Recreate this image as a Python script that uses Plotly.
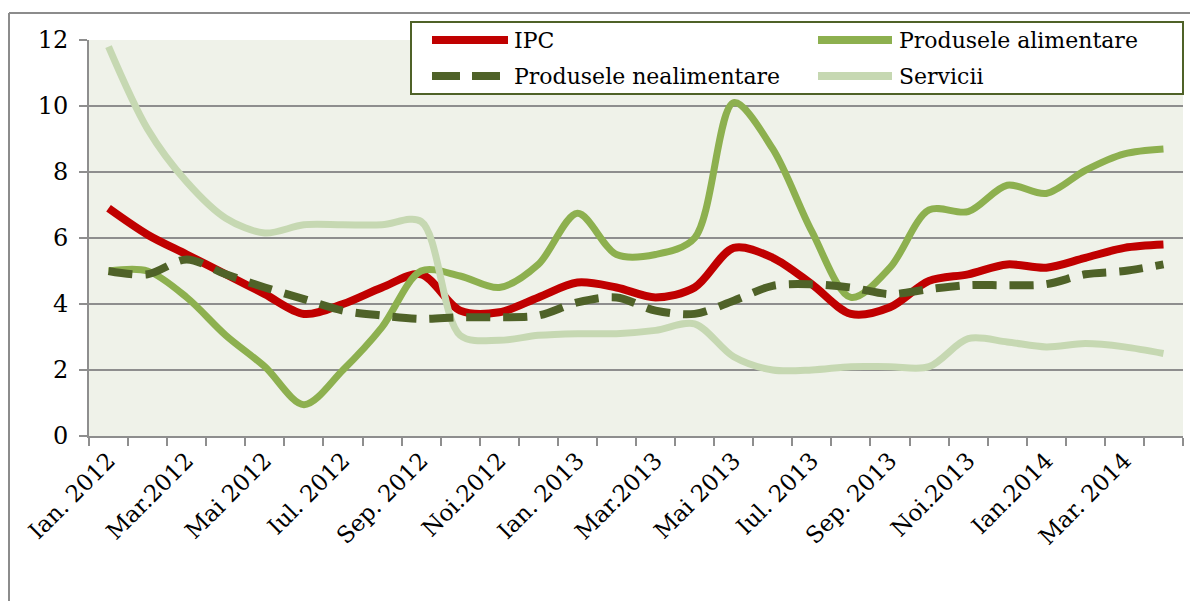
import plotly.graph_objects as go

# ---------------- data ----------------
months = ["Ian. 2012", "Feb. 2012", "Mar.2012", "Apr. 2012", "Mai 2012", "Iun. 2012",
          "Iul. 2012", "Aug. 2012", "Sep. 2012", "Oct. 2012", "Noi.2012", "Dec. 2012",
          "Ian. 2013", "Feb. 2013", "Mar.2013", "Apr. 2013", "Mai 2013", "Iun. 2013",
          "Iul. 2013", "Aug. 2013", "Sep. 2013", "Oct. 2013", "Noi.2013", "Dec. 2013",
          "Ian.2014", "Feb. 2014", "Mar. 2014", "Apr. 2014"]
tick_labels = ["Ian. 2012", "Mar.2012", "Mai 2012", "Iul. 2012", "Sep. 2012", "Noi.2012",
               "Ian. 2013", "Mar.2013", "Mai 2013", "Iul. 2013", "Sep. 2013", "Noi.2013",
               "Ian.2014", "Mar. 2014"]

ipc = [6.9, 6.1, 5.5, 4.9, 4.3, 3.7, 4.0, 4.5, 4.9, 3.8, 3.75, 4.2, 4.65, 4.5,
       4.2, 4.5, 5.7, 5.4, 4.6, 3.7, 3.9, 4.7, 4.9, 5.2, 5.1, 5.4, 5.7, 5.8]
alimentare = [5.0, 5.0, 4.2, 3.05, 2.1, 0.95, 2.0, 3.3, 5.0, 4.85, 4.5, 5.2, 6.75, 5.5,
              5.5, 6.0, 10.1, 8.7, 6.2, 4.2, 5.1, 6.85, 6.8, 7.6, 7.35, 8.05, 8.55, 8.7]
nealimentare = [5.0, 4.9, 5.35, 4.9, 4.5, 4.15, 3.8, 3.65, 3.55, 3.6, 3.6, 3.65, 4.05, 4.2,
                3.8, 3.7, 4.1, 4.55, 4.6, 4.5, 4.3, 4.45, 4.57, 4.57, 4.6, 4.9, 5.0, 5.2]
servicii = [11.8, 9.3, 7.7, 6.6, 6.15, 6.4, 6.4, 6.4, 6.5, 3.05, 2.9, 3.05, 3.1, 3.1,
            3.2, 3.4, 2.4, 2.0, 2.0, 2.1, 2.1, 2.1, 2.95, 2.85, 2.7, 2.8, 2.7, 2.5]

series_names = ["IPC", "Produsele alimentare", "Produsele nealimentare", "Servicii"]

# ---------------- style ----------------
C_IPC = "#c00000"
C_ALIM = "#8db04f"
C_NEAL = "#4f6228"
C_SERV = "#c6d8b2"
GRID = "#8e8e8e"
FONT = "DejaVu Serif"

OFF = 8  # page body margin
W, H = 1198 - OFF, 601 - OFF
L, R, T, B = 89 - OFF, 15, 40 - OFF, 165
PW, PH = W - L - R, H - T - B


def px(x):  # page pixel x -> paper
    return (x - OFF - L) / PW


def py(y):  # page pixel y -> paper
    return (H - B - (y - OFF)) / PH


xs = list(range(len(months)))
fig = go.Figure()


def add(y, name, color, width, dash="solid"):
    fig.add_trace(go.Scatter(
        x=xs, y=y, name=name, mode="lines", showlegend=False,
        line=dict(color=color, width=width, dash=dash, shape="spline", smoothing=0.9),
        hovertext=months,
    ))


add(ipc, series_names[0], C_IPC, 8)
add(alimentare, series_names[1], C_ALIM, 7)
add(servicii, series_names[3], C_SERV, 7)
add(nealimentare, series_names[2], C_NEAL, 8, dash="24px,13px")

shapes = []
annotations = []

# outer chart border (left and top)
shapes.append(dict(type="line", xref="paper", yref="paper", x0=px(9), x1=px(9),
                   y0=py(13), y1=py(610), line=dict(color="#8c8c8c", width=2)))
shapes.append(dict(type="line", xref="paper", yref="paper", x0=px(9), x1=px(1210),
                   y0=py(13), y1=py(13), line=dict(color="#8c8c8c", width=2)))

# legend box
shapes.append(dict(type="rect", xref="paper", yref="paper", x0=px(411), x1=px(1183),
                   y0=py(22), y1=py(94), fillcolor="white",
                   line=dict(color=C_NEAL, width=2), layer="above"))

legend_items = [
    (series_names[0], C_IPC, 8, "solid", 432, 508, 40, 512),
    (series_names[1], C_ALIM, 8, "solid", 818, 892, 40, 897),
    (series_names[2], C_NEAL, 8, "28px,12px", 432, 500, 76, 512),
    (series_names[3], C_SERV, 8, "solid", 818, 892, 76, 897),
]
for name, color, width, dash, x0, x1, yy, tx in legend_items:
    shapes.append(dict(type="line", xref="paper", yref="paper", x0=px(x0), x1=px(x1),
                       y0=py(yy), y1=py(yy), line=dict(color=color, width=width, dash=dash),
                       layer="above"))
    annotations.append(dict(xref="paper", yref="paper", x=px(tx), y=py(yy), text=name,
                            showarrow=False, xanchor="left", yanchor="middle",
                            font=dict(family=FONT, size=22, color="black")))

fig.update_layout(
    width=W, height=H,
    margin=dict(l=L, r=R, t=T, b=B, pad=0),
    paper_bgcolor="white",
    plot_bgcolor="#eff2e9",
    font=dict(family=FONT, size=22, color="black"),
    shapes=shapes,
    annotations=annotations,
    showlegend=False,
    xaxis=dict(
        range=[-0.5, len(months) - 0.5],
        tickmode="array",
        tickvals=xs[::2],
        ticktext=tick_labels,
        tickangle=-45,
        ticks="outside", ticklen=0,
        showgrid=False, zeroline=False,
        showline=True, linecolor=GRID, linewidth=2,
        tickfont=dict(family=FONT, size=23),
        minor=dict(tickmode="linear", tick0=-0.5, dtick=1, ticks="outside",
                   ticklen=8, tickwidth=2, tickcolor=GRID, showgrid=False),
    ),
    yaxis=dict(
        range=[0, 12],
        tickmode="linear", tick0=0, dtick=2,
        ticks="outside", ticklen=8, tickwidth=2, tickcolor=GRID,
        showgrid=True, gridcolor=GRID, gridwidth=2,
        zeroline=False,
        showline=True, linecolor=GRID, linewidth=2,
        tickfont=dict(family=FONT, size=24),
        ticklabelstandoff=6,
    ),
)

fig.write_html("out.html")
